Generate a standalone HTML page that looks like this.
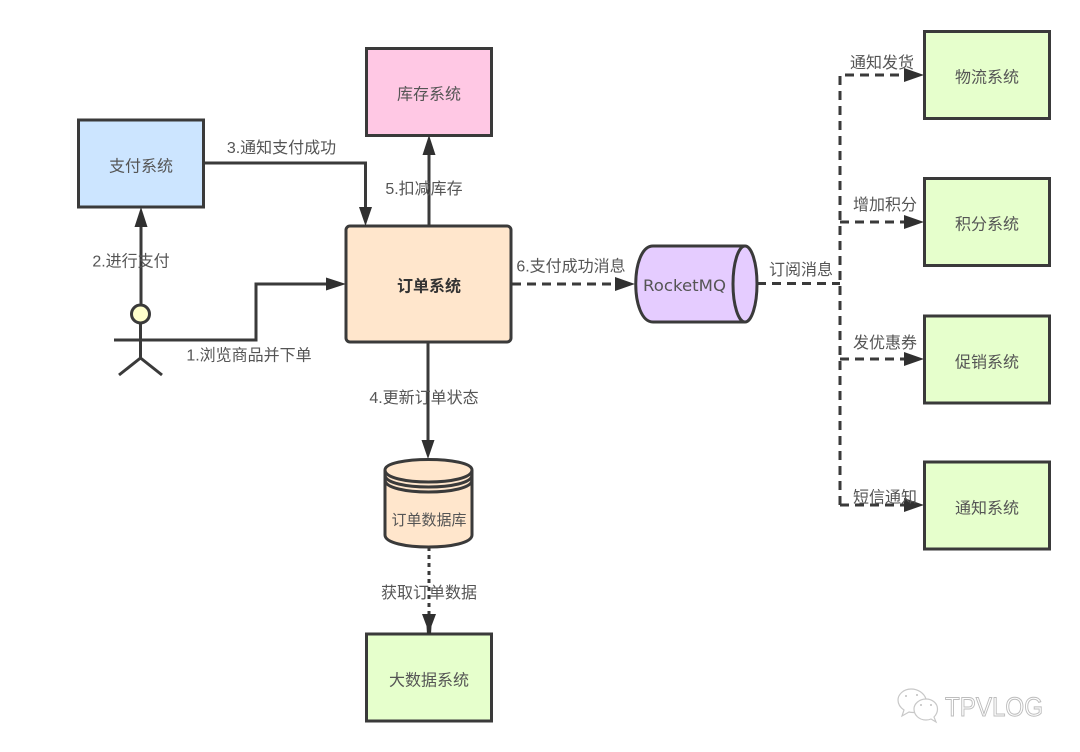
<!DOCTYPE html>
<html><head><meta charset="utf-8"><style>
html,body{margin:0;padding:0;background:#fff;width:1080px;height:752px;overflow:hidden}
svg{display:block}
text{font-family:"Liberation Sans","Noto Sans CJK SC",sans-serif;font-size:16px;fill:#555;text-anchor:middle}
.b{stroke:#3a3a3a;stroke-width:3;}
.l{stroke:#3a3a3a;stroke-width:3;fill:none}
.d{stroke:#3a3a3a;stroke-width:3;fill:none;stroke-dasharray:9 6}
.a{fill:#303030;stroke:none}
</style></head><body>
<svg width="1080" height="752" viewBox="0 0 1080 752">
<rect class="b" x="366.500" y="48.500" width="125" height="87" fill="#ffc8e4"/>
<text x="429" y="99.500">库存系统</text>
<rect class="b" x="78.500" y="120" width="125" height="87" fill="#cce5ff"/>
<text x="141" y="171.500">支付系统</text>
<rect class="b" x="346" y="226" width="165" height="116" rx="4" fill="#ffe6cc"/>
<text x="429" y="291.500" style="font-weight:bold;fill:#333">订单系统</text>
<rect class="b" x="924.500" y="31.500" width="125" height="87" fill="#e6ffcc"/>
<text x="987" y="82.500">物流系统</text>
<rect class="b" x="924.500" y="178.500" width="125" height="87" fill="#e6ffcc"/>
<text x="987" y="229.500">积分系统</text>
<rect class="b" x="924.500" y="316" width="125" height="87" fill="#e6ffcc"/>
<text x="987" y="367.500">促销系统</text>
<rect class="b" x="924.500" y="462" width="125" height="87" fill="#e6ffcc"/>
<text x="987" y="513.500">通知系统</text>
<rect class="b" x="366.500" y="634" width="125" height="87" fill="#e6ffcc"/>
<text x="429" y="685.500">大数据系统</text>

<path class="l" d="M204 163H365.500V212"/><path class="a" d="M359 207H372L365.500 226Z"/>
<text x="281.500" y="153">3.通知支付成功</text>
<path class="l" d="M141 306V222"/><path class="a" d="M134.500 227L141 207L147.500 227Z"/>
<text x="131" y="266.500">2.进行支付</text>
<path class="l" d="M114 340H256V284H332"/><path class="a" d="M326 277.500L346 284L326 290.500Z"/>
<text x="249" y="360.500">1.浏览商品并下单</text>
<path class="l" d="M429 226V150"/><path class="a" d="M422.500 155L429 135L435.500 155Z"/>
<text x="424" y="194">5.扣减库存</text>
<path class="l" d="M428 342V445"/><path class="a" d="M421.500 440H434.500L428 459Z"/>
<text x="424" y="403">4.更新订单状态</text>

<circle cx="140.500" cy="314" r="9" fill="#ffffcc" stroke="#3a3a3a" stroke-width="3"/>
<path class="l" d="M140.500 323V358M119 375L140.500 358L162 375"/>

<path d="M385 470C385 456 472 456 472 470V535C472 551 385 551 385 535Z" fill="#ffe6cc" stroke="#3a3a3a" stroke-width="3"/>
<path class="l" d="M385 470C385 486 472 486 472 470M385 475C385 491 472 491 472 475M385 480C385 496 472 496 472 480"/>
<text x="429" y="525" style="font-size:15px">订单数据库</text>
<path class="l" d="M429 547V614" style="stroke-dasharray:4 4"/>
<path class="a" d="M422 614H436L431.500 626L431 634H427L426.500 626Z"/>
<text x="429" y="598">获取订单数据</text>

<path class="d" d="M512 284H618"/><path class="a" d="M615 277L635 284L615 291Z"/>
<text x="571" y="271.500">6.支付成功消息</text>
<path d="M653 246H745A12 38 0 0 1 745 322H653C630 322 630 246 653 246Z" fill="#e5ccff" stroke="#3a3a3a" stroke-width="3"/>
<path class="l" d="M745 246A12 38 0 0 0 745 322"/>
<text x="684.500" y="291" style="font-family:'DejaVu Sans',sans-serif;font-size:16px" textLength="83" lengthAdjust="spacingAndGlyphs">RocketMQ</text>
<path class="d" d="M757 283.500H840"/>
<text x="801" y="275">订阅消息</text>
<path class="d" d="M840 505V75H905"/>
<path class="d" d="M840 222H905"/>
<path class="d" d="M840 359H905"/>
<path class="d" d="M840 505H905"/>
<path class="a" d="M904 68L924 75L904 82Z"/>
<path class="a" d="M904 215L924 222L904 229Z"/>
<path class="a" d="M904 352L924 359L904 366Z"/>
<path class="a" d="M904 498L924 505L904 512Z"/>
<text x="882" y="68">通知发货</text>
<text x="885" y="210">增加积分</text>
<text x="885" y="348">发优惠券</text>
<text x="885" y="502.500">短信通知</text>

<g fill="#fff" stroke="#c8c8c8" stroke-width="1.200">
<path d="M911 689C903 689 898 695 898 700C898 705 901 708 904 710L902 716L909 712C911 712.500 913 712.500 915 712.500C915 705 920 700 926 699C924 693 918 689 911 689Z"/>
<path d="M926 699C919 699 914 704 914 709C914 715 919 720 926 720C928 720 930 719.500 931 719L936 722L934 717C936 715 937.500 712 937.500 709C937.500 703 932 699 926 699Z"/>
</g>
<g fill="#c0c0c0"><circle cx="906" cy="696" r="1"/><circle cx="917" cy="695" r="1"/><circle cx="921" cy="705" r="1"/><circle cx="931" cy="705" r="1"/></g>
<text x="945" y="716" textLength="98" lengthAdjust="spacingAndGlyphs" style="font-size:27px;text-anchor:start;fill:#fff;stroke:#bdbdbd;stroke-width:1">TPVLOG</text>
</svg>
</body></html>
